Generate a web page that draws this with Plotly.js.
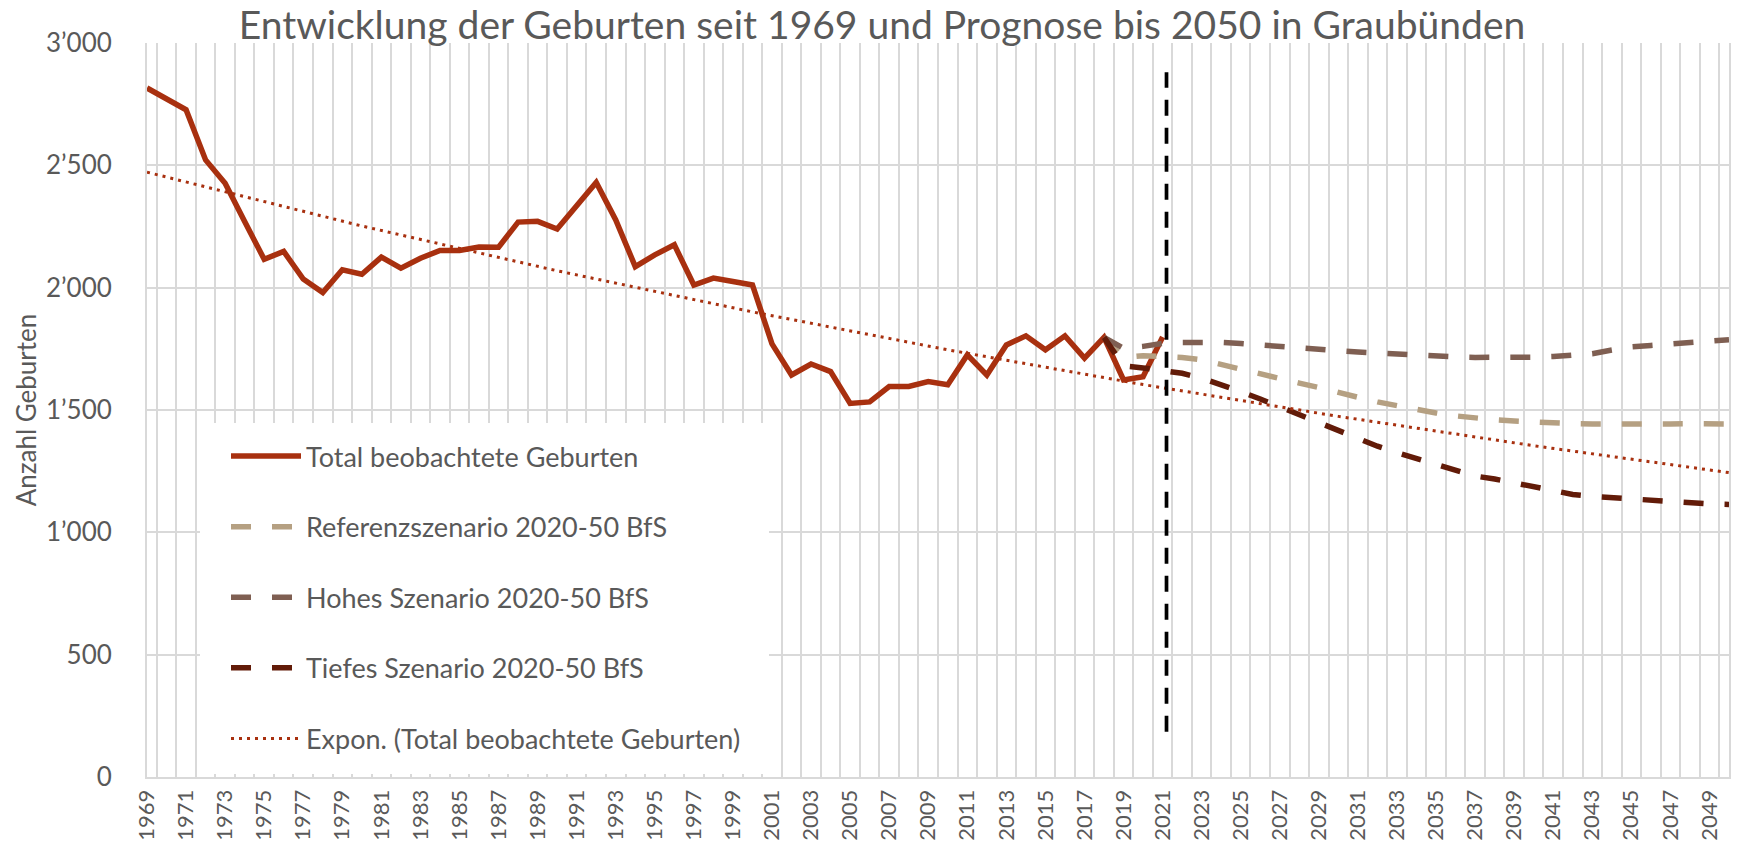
<!DOCTYPE html>
<html>
<head>
<meta charset="utf-8">
<script src="https://cdn.plot.ly/plotly-3.0.1.min.js"></script>
<style>html,body{margin:0;padding:0;background:#fff;}#chart{width:1738px;height:850px;}</style>
</head>
<body>
<div id="chart"></div>
<script>
// Categories (years on the x axis)
var years = [1969,1970,1971,1972,1973,1974,1975,1976,1977,1978,1979,1980,1981,1982,1983,1984,1985,1986,1987,1988,1989,1990,1991,1992,1993,1994,1995,1996,1997,1998,1999,2000,2001,2002,2003,2004,2005,2006,2007,2008,2009,2010,2011,2012,2013,2014,2015,2016,2017,2018,2019,2020,2021,2022,2023,2024,2025,2026,2027,2028,2029,2030,2031,2032,2033,2034,2035,2036,2037,2038,2039,2040,2041,2042,2043,2044,2045,2046,2047,2048,2049,2050];

// Observed births 1969-2021
var obsYears = [1969,1970,1971,1972,1973,1974,1975,1976,1977,1978,1979,1980,1981,1982,1983,1984,1985,1986,1987,1988,1989,1990,1991,1992,1993,1994,1995,1996,1997,1998,1999,2000,2001,2002,2003,2004,2005,2006,2007,2008,2009,2010,2011,2012,2013,2014,2015,2016,2017,2018,2019,2020,2021];
var observed = [2816,2772,2727,2522,2427,2270,2116,2148,2035,1980,2073,2055,2125,2080,2120,2152,2152,2166,2165,2268,2271,2240,2339,2430,2277,2086,2134,2175,2011,2039,2025,2011,1770,1643,1688,1657,1527,1533,1596,1596,1616,1603,1725,1643,1766,1803,1746,1803,1712,1797,1623,1636,1798];

// Scenarios 2018-2050
var scenYears = [2018,2019,2020,2021,2022,2023,2024,2025,2026,2027,2028,2029,2030,2031,2032,2033,2034,2035,2036,2037,2038,2039,2040,2041,2042,2043,2044,2045,2046,2047,2048,2049,2050];
var referenz = [1797,1715,1722,1720,1715,1705,1685,1665,1648,1630,1610,1592,1570,1552,1533,1517,1500,1488,1476,1467,1460,1455,1450,1446,1444,1443,1442,1442,1442,1443,1444,1444,1443];
var hohes    = [1797,1752,1760,1772,1776,1777,1776,1772,1765,1759,1752,1746,1742,1737,1733,1725,1721,1719,1717,1715,1714,1714,1716,1719,1722,1730,1745,1758,1764,1770,1780,1785,1787];
var tiefes   = [1797,1680,1672,1662,1650,1630,1605,1575,1545,1512,1480,1446,1413,1382,1352,1326,1302,1276,1250,1230,1218,1203,1185,1170,1155,1147,1141,1137,1130,1126,1120,1116,1114];

// Exponential trend line
var trendYears = [1969,1980,1990,2000,2010,2020,2030,2040,2050];
var trend      = [2472,2252,2069,1901,1746,1604,1474,1354,1244];

// Tick labels
var xTickLabels = years.map(function(y, i){ return (i % 2 === 0) ? String(y) : ''; });
var yTickVals = [0,500,1000,1500,2000,2500,3000];
var yTickText = ['0','500','1’000','1’500','2’000','2’500','3’000'];

var names = ['Total beobachtete Geburten','Referenzszenario 2020-50 BfS','Hohes Szenario 2020-50 BfS','Tiefes Szenario 2020-50 BfS','Expon. (Total beobachtete Geburten)'];
var colors = {obs:'#A8300F', ref:'#B5A082', high:'#7F5F52', low:'#621B08', trend:'#A8300F'};

var traces = [
  {x: obsYears, y: observed, name: names[0], mode:'lines', line:{color:colors.obs, width:5.5}, legendgroup:'a'},
  {x: scenYears, y: referenz, name: names[1], mode:'lines', line:{color:colors.ref, width:5.5, dash:'20px,21px'}, legendgroup:'b'},
  {x: scenYears, y: hohes, name: names[2], mode:'lines', line:{color:colors.high, width:5.5, dash:'20px,21px'}, legendgroup:'c'},
  {x: scenYears, y: tiefes, name: names[3], mode:'lines', line:{color:colors.low, width:5.5, dash:'20px,21px'}, legendgroup:'d'},
  {x: trendYears, y: trend, name: names[4], mode:'lines', line:{color:colors.trend, width:3, dash:'3px,5px'}, legendgroup:'e'}
];

var W = 1738, H = 850, L = 147, R = 9, T = 43, B = 73;
var pw = W - L - R, ph = H - T - B;
function px2paperX(p){ return (p - L) / pw; }
function px2paperY(p){ return (H - B - p) / ph; }

var layout = {
  width: W, height: H,
  margin: {l:L, r:R, t:T, b:B, pad:0},
  paper_bgcolor:'#ffffff', plot_bgcolor:'#ffffff',
  font: {family:'Lato, "Open Sans", sans-serif', color:'#595959'},
  title: {text:'Entwicklung der Geburten seit 1969 und Prognose bis 2050 in Graubünden',
          font:{size:39, color:'#595959', family:'Lato, sans-serif'},
          xref:'container', x: 882/W, xanchor:'center', yref:'container', y: 1 - 25/H, yanchor:'middle'},
  xaxis: {
    type:'category', categoryorder:'array', categoryarray: years,
    tickmode:'array', tickvals: years, ticktext: xTickLabels,
    tickson:'boundaries', ticks:'', showgrid:true, gridcolor:'#D9D9D9', gridwidth:2,
    showline:true, linecolor:'#D9D9D9', linewidth:2,
    tickangle:-90, tickfont:{size:22, color:'#595959'}, ticklabelstandoff:2,
    zeroline:false, fixedrange:true
  },
  yaxis: {
    range:[0,3000], tickmode:'array', tickvals:yTickVals, ticktext:yTickText,
    showgrid:true, gridcolor:'#D9D9D9', gridwidth:2, zeroline:false,
    showline:true, mirror:true, linecolor:'#D9D9D9', linewidth:2,
    ticks:'', tickfont:{size:26, color:'#595959'}, ticklabelstandoff:28,
    title:{text:'Anzahl Geburten', font:{size:26, color:'#595959'}, standoff:2},
    fixedrange:true
  },
  showlegend:true,
  legend: {
    x: px2paperX(226), xanchor:'left', y: px2paperY(432), yanchor:'top',
    bgcolor:'rgba(0,0,0,0)', borderwidth:0,
    font:{size:27, color:'#595959'}, itemwidth:70,
    traceorder:'grouped', tracegroupgap:32.5
  },
  shapes: [
    {type:'rect', xref:'paper', yref:'paper', x0:px2paperX(200), x1:px2paperX(769), y0:px2paperY(774), y1:px2paperY(423),
     fillcolor:'#ffffff', line:{width:0}, layer:'above'},
    {type:'line', xref:'x', yref:'y', x0:52.2, x1:52.2, y0:185, y1:2880,
     line:{color:'#000000', width:3.7, dash:'16px,12px'}, layer:'above'}
  ]
};

Plotly.newPlot('chart', traces, layout, {displayModeBar:false, staticPlot:true});
</script>
</body>
</html>
